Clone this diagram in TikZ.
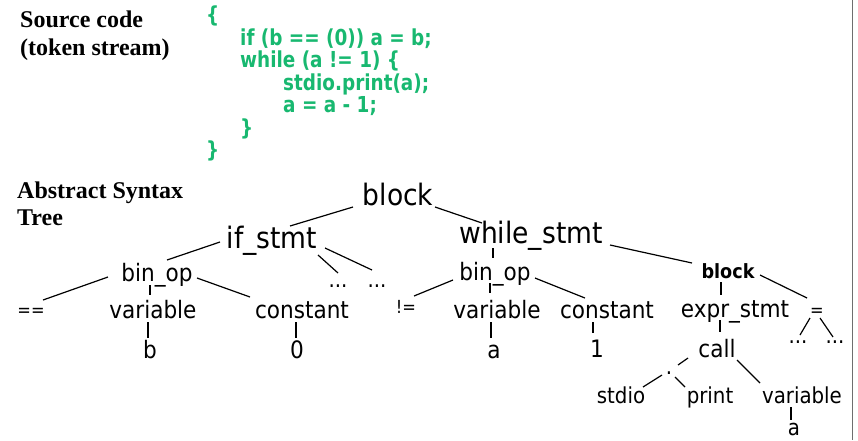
\documentclass[tikz,border=0pt]{standalone}
\usepackage{fontspec}
\setmainfont{Liberation Serif}
\newfontfamily\treefont{DejaVu Sans Condensed}
\newfontfamily\codefont{DejaVu Sans Condensed}[FakeStretch=0.93]
\definecolor{codegreen}{RGB}{24,184,112}
\definecolor{framegray}{RGB}{110,110,110}
\tikzset{
  lbl/.style={anchor=base west, inner sep=0pt, font=\bfseries\fontsize{24}{28}\selectfont},
  code/.style={anchor=base west, inner sep=0pt, text=codegreen, font=\codefont\bfseries\fontsize{22}{24}\selectfont},
  big/.style={anchor=base, inner sep=0pt, font=\treefont\fontsize{29.5}{32}\selectfont},
  mid/.style={anchor=base, inner sep=0pt, font=\treefont\fontsize{24}{28}\selectfont},
  low/.style={anchor=base, inner sep=0pt, font=\treefont\fontsize{22}{26}\selectfont},
  tiny/.style={anchor=base, inner sep=0pt, font=\treefont\fontsize{18}{20}\selectfont},
  boldsmall/.style={anchor=base, inner sep=0pt, font=\treefont\bfseries\fontsize{19.6}{22}\selectfont},
  edge/.style={line width=1.2pt, black},
}
% connector between two nodes, each end given as an offset from the node's base point
\newcommand\link[4]{\draw[edge] ([shift={(#2)}]#1.base) -- ([shift={(#4)}]#3.base);}
\begin{document}
\begin{tikzpicture}[x=1pt,y=-1pt]
\useasboundingbox (0,0) rectangle (858,440);
\draw[framegray, line width=1.4pt] (852.5,0) -- (852.5,440);

% headings
\node[lbl] (src1) at (20,27) {Source code};
\node[lbl] (src2) at (20,55) {(token stream)};
\node[lbl] (ast1) at (17,198) {Abstract Syntax};
\node[lbl] (ast2) at (17,225) {Tree};

% source code
\node[code] (c1) at (206,22) {\{};
\node[code] (c2) at (240,45) {if (b == (0)) a = b;};
\node[code] (c3) at (240,67.5) {while (a != 1) \{};
\node[code] (c4) at (283,90) {stdio.print(a);};
\node[code] (c5) at (283,112.5) {a = a - 1;};
\node[code] (c6) at (240,135) {\}};
\node[code] (c7) at (206,157.5) {\}};

% tree nodes
\node[big] (blk) at (398,205) {block};
\node[big] (ifs) at (272,248) {if\_stmt};
\node[big] (whl) at (531,243) {while\_stmt};
\node[mid] (bop1) at (157,281) {bin\_op};
\node[low] (dA) at (338,287) {...};
\node[low] (dB) at (377,287) {...};
\node[tiny] (eq) at (31,316) {==};
\node[mid] (var1) at (153,318) {variable};
\node[mid] (con1) at (302,318) {constant};
\node[mid] (vb) at (150,358) {b};
\node[mid] (zero) at (297,358) {0};
\node[tiny] (ne) at (406,313) {!=};
\node[mid] (bop2) at (495,280) {bin\_op};
\node[mid] (var2) at (497,318) {variable};
\node[mid] (con2) at (607,318) {constant};
\node[mid] (va1) at (494,358) {a};
\node[mid] (one) at (597,357) {1};
\node[boldsmall] (blk2) at (728,278) {block};
\node[mid] (expr) at (735,317) {expr\_stmt};
\node[tiny] (eq2) at (817,316) {=};
\node[low] (dC) at (798,343) {...};
\node[low] (dD) at (835,343) {...};
\node[mid] (call) at (717,357) {call};
\node[low] (dot) at (669,374) {.};
\node[low] (stdio) at (621,403) {stdio};
\node[low] (print) at (710,403) {print};
\node[low] (var3) at (802,403) {variable};
\node[low] (va2) at (794,435.5) {a};

% connectors
\link{blk}{-45,2}{ifs}{18,-22}
\link{blk}{37,2}{whl}{-49,-20}
\link{ifs}{-52,-6}{bop1}{10,-21}
\link{ifs}{46,7}{dA}{0,-14}
\link{ifs}{53,0}{dB}{-5,-17}
\link{bop1}{-49,-4}{eq}{12,-16}
\link{bop1}{-7,4}{var1}{-3,-23}
\link{bop1}{40,-3}{con1}{-52,-21}
\link{var1}{-5,4}{vb}{-2,-20}
\link{con1}{-6,4}{zero}{-1,-20}
\link{whl}{-38,5}{bop2}{-2,-22}
\link{bop2}{-42,0}{ne}{8,-17}
\link{bop2}{-5,3}{var2}{-7,-25}
\link{bop2}{40,-2}{con2}{-22,-20}
\link{whl}{79,2}{blk2}{-36,-15}
\link{blk2}{-7,4}{expr}{-14,-22}
\link{blk2}{32,-3}{eq2}{-10,-18}
\link{var2}{-6,4}{va1}{-3,-20}
\link{con2}{-14,4}{one}{-4,-24}
\link{expr}{-15,3}{call}{3,-25}
\link{eq2}{-7,2}{dC}{2,-8}
\link{eq2}{3,2}{dD}{-2,-6}
\link{call}{-29,1}{dot}{9,-9}
\link{dot}{-7,1}{stdio}{22,-16}
\link{dot}{6,3}{print}{-25,-16}
\link{call}{20,3}{var3}{-42,-20}
\link{var3}{-11,4}{va2}{-3,-16}
\end{tikzpicture}
\end{document}
